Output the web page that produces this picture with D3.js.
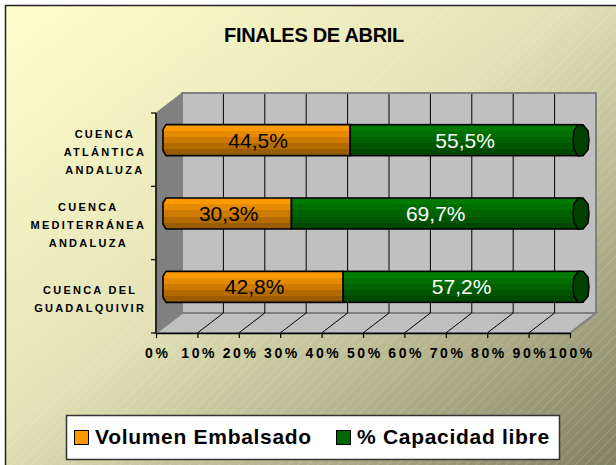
<!DOCTYPE html>
<html><head><meta charset="utf-8">
<script src="https://cdn.jsdelivr.net/npm/d3@7"></script>
<style>body{margin:0;background:#fff}svg{display:block}text{font-family:Arial,"Liberation Sans",sans-serif}</style>
</head><body>
<script>
const title = "FINALES DE ABRIL";
const categories = ["CUENCA ATLÁNTICA ANDALUZA", "CUENCA MEDITERRÁNEA ANDALUZA", "CUENCA DEL GUADALQUIVIR"];
const categoryLines = [["CUENCA", "ATLÁNTICA", "ANDALUZA"], ["CUENCA", "MEDITERRÁNEA", "ANDALUZA"], ["CUENCA DEL", "GUADALQUIVIR"]];
const volumen = [44.5, 30.3, 42.8];
const libre = [55.5, 69.7, 57.2];
const seriesNames = ["Volumen Embalsado", "% Capacidad libre"];
const tickValues = [0, 10, 20, 30, 40, 50, 60, 70, 80, 90, 100];
const fmt = v => v.toFixed(1).replace(".", ",") + "%";

const W = 616, H = 465;
const svg = d3.select("body").append("svg").attr("width", W).attr("height", H);
const defs = svg.append("defs");

// background gradient + hatch
const bg = defs.append("linearGradient").attr("id", "bg").attr("x1", "0").attr("y1", "0").attr("x2", "1").attr("y2", "1");
bg.append("stop").attr("offset", "0").attr("stop-color", "#FFFFCC");
bg.append("stop").attr("offset", "0.45").attr("stop-color", "#E2E2B6");
bg.append("stop").attr("offset", "1").attr("stop-color", "#7C7C5E");
const hatch = defs.append("pattern").attr("id", "hatch").attr("patternUnits", "userSpaceOnUse")
  .attr("width", 7).attr("height", 7).attr("patternTransform", "rotate(45)");
hatch.append("line").attr("x1", 0).attr("y1", 0).attr("x2", 0).attr("y2", 7)
  .attr("stroke", "#ffffff").attr("stroke-width", 0.8).attr("stroke-opacity", 0.35);

svg.append("rect").attr("x", 0).attr("y", 0).attr("width", W).attr("height", H).attr("fill", "#ffffff");
svg.append("rect").attr("x", 5.5).attr("y", 5.5).attr("width", W + 10).attr("height", H + 10)
  .attr("fill", "url(#bg)").attr("stroke", "#222").attr("stroke-width", 1.5);
svg.append("rect").attr("x", 6).attr("y", 6).attr("width", W).attr("height", H).attr("fill", "url(#hatch)");

// title
svg.append("text").attr("x", 314).attr("y", 42).attr("text-anchor", "middle")
  .attr("font-size", 20).attr("font-weight", "bold").attr("letter-spacing", -0.3).attr("fill", "#000").text(title);

// scales
const x = d3.scaleLinear().domain([0, 100]).range([156, 570]);
const y = d3.scaleBand().domain(categories).range([113, 333]);
const dx = 26, dy = -20;
const yTop = y.range()[0], yBot = y.range()[1];

// side wall
svg.append("path").attr("d", `M${x(0)},${yTop}L${x(0)+dx},${yTop+dy}L${x(0)+dx},${yBot+dy}L${x(0)},${yBot}Z`)
  .attr("fill", "#808080").attr("stroke", "#808080").attr("stroke-width", 1);
// floor
svg.append("path").attr("d", `M${x(0)},${yBot}L${x(0)+dx},${yBot+dy}L${x(100)+dx},${yBot+dy}L${x(100)},${yBot}Z`)
  .attr("fill", "#C0C0C0").attr("stroke", "#808080").attr("stroke-width", 2);
// back wall
svg.append("rect").attr("x", x(0)+dx).attr("y", yTop+dy).attr("width", x(100)-x(0)).attr("height", yBot-yTop)
  .attr("fill", "#C0C0C0").attr("stroke", "#808080").attr("stroke-width", 2);
// grid lines on back wall and floor
const inner = tickValues.filter(t => t > 0 && t < 100);
svg.append("g").selectAll("line").data(inner).join("line")
  .attr("x1", d => x(d)+dx).attr("x2", d => x(d)+dx).attr("y1", yTop+dy+1).attr("y2", yBot+dy)
  .attr("stroke", "#000").attr("stroke-width", 1);
svg.append("g").selectAll("line").data(inner).join("line")
  .attr("x1", d => x(d)).attr("x2", d => x(d)+dx).attr("y1", yBot).attr("y2", yBot+dy)
  .attr("stroke", "#000").attr("stroke-width", 1);

// gradients for bars
function stripeGrad(id, cols) {
  const g = defs.append("linearGradient").attr("id", id).attr("x1", 0).attr("y1", 0).attr("x2", 0).attr("y2", 1);
  const n = cols.length;
  cols.forEach((c, i) => {
    g.append("stop").attr("offset", i / n).attr("stop-color", c);
    g.append("stop").attr("offset", (i + 1) / n).attr("stop-color", c);
  });
}
stripeGrad("gOr", ["#FF9900", "#E68A00", "#CC7A00", "#B36B00", "#995C00"]);
stripeGrad("gGr", ["#007A00", "#006E00", "#006200", "#005500", "#004800"]);

const barH = 31, offX = 10, offY = -9.5;
const bars = svg.append("g");
categories.forEach((c, i) => {
  const cy = y(c) + y.bandwidth() / 2 + offY;
  const t = cy - barH / 2, b = cy + barH / 2;
  const x0 = x(0) + offX, xm = x(volumen[i]) + offX, x1 = x(volumen[i] + libre[i]) + offX;
  bars.append("path").attr("d", `M${xm},${t}L${x0},${t}L${x0-3},${t+5}L${x0-3},${b-5}L${x0},${b}L${xm},${b}Z`)
    .attr("fill", "url(#gOr)").attr("stroke", "#000").attr("stroke-width", 1.6).attr("stroke-linejoin", "round");
  bars.append("rect").attr("x", xm).attr("y", t).attr("width", x1 - xm).attr("height", barH)
    .attr("fill", "url(#gGr)").attr("stroke", "#000").attr("stroke-width", 1.6);
  bars.append("path").attr("d", `M${x1-2},${t}L${x1+3},${t}L${x1+8},${t+6}L${x1+9},${cy}L${x1+8},${b-6}L${x1+3},${b}L${x1-2},${b}L${x1-6},${b-6}L${x1-7},${cy}L${x1-6},${t+6}Z`)
    .attr("fill", "#004000").attr("stroke", "#000").attr("stroke-width", 1.5).attr("stroke-linejoin", "round");
  bars.append("text").attr("x", (x0 + xm) / 2).attr("y", cy + 7.5).attr("text-anchor", "middle")
    .attr("font-size", 21).attr("fill", "#000").text(fmt(volumen[i]));
  bars.append("text").attr("x", (xm + x1) / 2).attr("y", cy + 7.5).attr("text-anchor", "middle")
    .attr("font-size", 21).attr("fill", "#fff").text(fmt(libre[i]));
});

// front axes
svg.append("line").attr("x1", x(0)).attr("x2", x(0)).attr("y1", yTop).attr("y2", yBot).attr("stroke", "#000").attr("stroke-width", 1.5);
const yTicks = categories.map(c => y(c)).concat([yBot]);
svg.append("g").selectAll("line").data(yTicks).join("line")
  .attr("x1", x(0) - 5).attr("x2", x(0)).attr("y1", d => d).attr("y2", d => d).attr("stroke", "#000").attr("stroke-width", 1.2);

const xAxis = svg.append("g").attr("transform", `translate(0,${yBot})`)
  .call(d3.axisBottom(x).tickValues(tickValues).tickFormat(d => d + "%").tickSize(5).tickPadding(10).tickSizeOuter(0));
xAxis.select(".domain").attr("stroke", "#000").attr("stroke-width", 1.5);
xAxis.selectAll(".tick line").attr("stroke", "#000").attr("stroke-width", 1.2);
xAxis.selectAll(".tick text").attr("font-size", 14).attr("font-weight", "bold").attr("letter-spacing", 2.6)
  .attr("font-family", "Arial, 'Liberation Sans', sans-serif").attr("fill", "#000").attr("dx", 1.3);

// category labels: each block centred, block right edge fixed next to axis
const catG = svg.append("g");
const labelRight = x(0) - 11;
categories.forEach((c, i) => {
  const lines = categoryLines[i];
  const cy = y(c) + y.bandwidth() / 2 + 2.3;
  const texts = lines.map((l, j) => catG.append("text")
    .attr("y", cy + (j - (lines.length - 1) / 2) * 18 + 4)
    .attr("text-anchor", "middle").attr("font-size", 11).attr("font-weight", "bold")
    .attr("letter-spacing", 2.25).attr("fill", "#000").text(l));
  const maxW = d3.max(texts, t => t.node().getComputedTextLength());
  texts.forEach(t => t.attr("x", labelRight - maxW / 2 + 1.1));
});

// legend
const lg = svg.append("g");
lg.append("rect").attr("x", 66.5).attr("y", 415.5).attr("width", 493).attr("height", 44)
  .attr("fill", "#fff").attr("stroke", "#333").attr("stroke-width", 1.5);
const legendX = [74, 336];
const legendCols = ["#FF9900", "#006600"];
seriesNames.forEach((s, i) => {
  lg.append("rect").attr("x", legendX[i] + 0.5).attr("y", 430.5).attr("width", 14).attr("height", 14)
    .attr("fill", legendCols[i]).attr("stroke", "#000").attr("stroke-width", 1);
  lg.append("text").attr("x", legendX[i] + 21).attr("y", 444).attr("font-size", 21).attr("font-weight", "bold")
    .attr("letter-spacing", 0.7).attr("fill", "#000").text(s);
});
</script>
</body></html>
